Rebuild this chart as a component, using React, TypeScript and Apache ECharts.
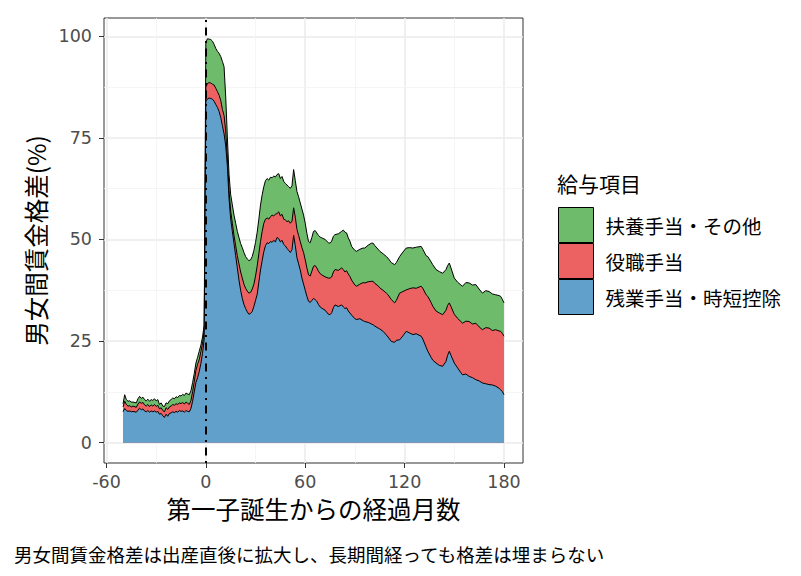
import React, { useEffect, useRef } from "react";
import * as echarts from "echarts";

// months since birth of first child
const months = [
  -50, -49, -48, -47, -46, -45, -44, -42, -41, -40, -39, -38, -37, -36, -35, -34, -33, -32, -31, -30,
  -29, -28, -27, -26, -25, -24, -23, -22, -21, -20, -19, -18, -17, -16, -15, -14, -13, -12, -11, -10,
  -9, -8, -7, -6, -5, -4, -3, -2, -1, 0, 1, 2, 3, 4, 5, 6, 7, 8, 9, 10,
  11, 12, 13, 14, 15, 16, 17, 18, 19, 20, 21, 22, 23, 24, 25, 26, 27, 28, 29, 30,
  31, 32, 33, 34, 35, 36, 37, 38, 39, 40, 41, 42, 43, 44, 45, 46, 47, 48, 49, 50,
  51, 52, 53, 54, 55, 56, 57, 58, 59, 60, 61, 62, 63, 64, 65, 66, 67, 68, 69, 70,
  72, 74, 75, 76, 77, 78, 80, 82, 83, 84, 85, 86, 87, 88, 90, 91, 93, 95, 96, 98,
  100, 101, 102, 104, 105, 107, 109, 110, 112, 114, 115, 117, 119, 121, 123, 125, 127, 130, 131, 133,
  134, 136, 137, 139, 141, 143, 145, 146, 147, 148, 150, 152, 154, 155, 157, 159, 161, 163, 165, 167,
  169, 171, 173, 175, 177, 178, 179, 180,
];

// cumulative top of 残業手当・時短控除 (bottom layer)
const overtimeTop = [
  7.6, 8.4, 7.9, 7.7, 7.8, 7.6, 7.7, 7.5, 8.0, 8.5, 8.1, 8.3, 7.8, 7.6, 7.9, 7.5, 7.8, 7.6, 7.8, 7.5,
  7.7, 7.0, 7.2, 6.6, 6.2, 7.0, 6.5, 7.2, 7.3, 7.6, 7.4, 7.7, 7.5, 7.9, 7.7, 7.8, 7.5, 7.9, 7.7, 7.6,
  8.4, 10.2, 12.5, 14.8, 16.0, 17.5, 19.5, 22.0, 25.5, 84.0, 84.6, 84.8, 84.7, 84.5, 84.0, 83.2, 82.5, 81.5, 80.0, 78.0,
  76.0, 73.0, 68.0, 60.0, 55.0, 52.0, 49.0, 46.0, 43.0, 40.0, 37.5, 35.5, 34.0, 33.0, 32.2, 31.6, 31.8, 32.3, 33.5, 35.0,
  36.5, 39.5, 42.5, 44.8, 47.0, 48.5, 49.2, 49.0, 49.5, 49.3, 49.8, 49.4, 50.5, 50.2, 49.4, 49.8, 48.8, 48.4, 47.8, 47.3,
  46.8, 47.5, 51.0, 48.5, 45.5, 44.0, 42.5, 40.5, 39.0, 37.5, 36.0, 34.8, 34.5, 35.0, 35.5, 35.2, 34.8, 34.0, 33.4, 33.1,
  32.6, 31.6, 31.5, 32.0, 33.2, 33.9, 33.5, 33.9, 33.4, 33.0, 33.2, 32.4, 31.9, 31.4, 30.5, 30.3, 30.5, 30.0, 29.8, 29.6,
  29.2, 29.0, 28.7, 28.2, 28.0, 27.4, 26.5, 26.0, 24.9, 24.7, 25.2, 25.3, 26.3, 27.4, 27.0, 26.6, 26.8, 26.2, 25.5, 23.5,
  22.5, 21.0, 20.3, 19.6, 19.0, 18.8, 20.0, 21.5, 22.5, 21.5, 19.6, 18.4, 17.2, 16.7, 16.9, 16.3, 16.0, 15.5, 15.2, 14.7,
  14.5, 14.3, 14.2, 13.9, 13.4, 13.0, 12.6, 11.8,
];

// cumulative top of 役職手当 (middle layer)
const positionTop = [
  8.8, 10.2, 9.4, 9.0, 9.1, 8.8, 9.0, 8.7, 9.5, 10.0, 9.7, 9.9, 9.3, 9.0, 9.4, 8.9, 9.3, 9.0, 9.4, 8.9,
  9.2, 8.3, 8.6, 7.9, 7.6, 8.6, 8.2, 8.8, 9.0, 9.4, 9.2, 9.6, 9.4, 9.8, 9.6, 9.9, 9.5, 10.0, 9.7, 9.4,
  10.4, 12.5, 15.0, 17.8, 19.3, 20.4, 22.4, 24.5, 27.5, 87.5, 88.4, 88.6, 88.5, 88.2, 88.0, 87.2, 86.4, 85.5, 84.2, 82.0,
  80.5, 76.5, 70.0, 62.0, 57.0, 54.0, 51.0, 48.5, 46.0, 44.0, 42.0, 40.5, 39.0, 38.0, 37.3, 36.8, 37.0, 37.8, 39.0, 41.0,
  43.5, 46.5, 49.5, 52.0, 54.0, 55.0, 55.3, 55.0, 55.6, 56.0, 55.8, 56.2, 56.4, 56.8, 55.8, 56.2, 55.0, 54.8, 54.4, 54.6,
  54.0, 54.5, 57.8, 55.5, 52.5, 51.0, 49.5, 48.0, 46.8, 45.0, 43.0, 41.3, 41.0, 42.2, 43.4, 43.6, 43.0, 42.2, 41.6, 41.3,
  40.8, 40.5, 40.5, 40.8, 42.0, 42.6, 42.4, 43.0, 42.6, 42.0, 42.3, 41.5, 40.9, 40.0, 38.8, 38.5, 39.0, 39.4, 39.3, 39.6,
  39.7, 39.7, 39.2, 38.6, 38.1, 37.5, 36.8, 36.4, 35.2, 34.4, 35.0, 36.8, 37.2, 37.6, 37.9, 38.1, 38.0, 38.5, 38.0, 36.4,
  36.0, 34.5, 33.6, 32.4, 31.9, 31.5, 32.6, 33.8, 34.4, 33.5, 31.6, 30.6, 29.8, 29.4, 29.9, 29.8, 29.2, 29.4, 28.5, 27.8,
  28.3, 28.2, 27.6, 27.8, 27.5, 27.4, 26.9, 26.2,
];

// cumulative top of 扶養手当・その他 (top layer)
const familyTop = [
  9.6, 11.8, 10.6, 10.2, 10.3, 10.0, 10.0, 9.8, 10.8, 11.4, 10.9, 11.2, 10.6, 10.3, 10.7, 10.2, 10.6, 10.4, 10.8, 10.3,
  10.6, 9.4, 9.8, 9.0, 8.9, 9.8, 9.6, 10.3, 10.6, 11.0, 10.8, 11.3, 11.1, 11.6, 11.5, 11.9, 11.6, 12.2, 12.0, 11.8,
  12.8, 14.8, 17.0, 19.6, 21.0, 22.5, 24.0, 26.0, 29.0, 98.5, 99.4, 99.3, 99.2, 98.8, 98.0, 97.0, 96.3, 95.8, 95.0, 93.8,
  92.5, 85.0, 75.0, 66.0, 61.0, 58.5, 56.0, 54.0, 52.0, 50.5, 49.0, 48.0, 46.8, 45.8, 45.2, 44.8, 45.0, 45.8, 47.3, 49.3,
  51.8, 55.0, 58.5, 61.0, 63.0, 64.5, 65.0, 64.6, 65.3, 65.2, 65.6, 65.4, 66.0, 66.2, 65.0, 65.5, 64.3, 63.8, 63.4, 63.0,
  62.6, 63.2, 67.2, 64.5, 61.8, 60.5, 59.0, 57.5, 56.0, 54.0, 51.5, 49.5, 49.2, 50.5, 52.0, 52.2, 51.6, 51.0, 50.6, 50.4,
  50.0, 49.2, 49.1, 49.6, 50.8, 51.2, 51.4, 52.0, 52.3, 51.8, 51.6, 50.4, 49.6, 48.3, 47.3, 47.1, 47.6, 47.9, 47.9, 48.6,
  49.1, 49.1, 48.5, 47.6, 47.1, 46.5, 45.8, 45.4, 44.3, 43.8, 44.3, 45.8, 46.9, 47.9, 48.0, 47.9, 48.1, 48.3, 47.6, 46.0,
  45.8, 44.5, 43.8, 42.6, 42.1, 41.7, 42.6, 43.6, 44.2, 43.0, 40.5, 39.5, 38.8, 38.5, 39.4, 39.3, 38.8, 38.9, 37.8, 36.8,
  37.4, 37.2, 36.6, 36.4, 36.2, 36.0, 35.3, 34.4,
];

const seriesNames = ["扶養手当・その他", "役職手当", "残業手当・時短控除"];
const seriesColors = ["#6DBB6B", "#EC6161", "#62A0CC"];

const xTicks = [-60, 0, 60, 120, 180];
const xMinor = [-30, 30, 90, 150];
const yTicks = [0, 25, 50, 75, 100];
const yMinor = [12.5, 37.5, 62.5, 87.5];

const legendTitle = "給与項目";
const xTitle = "第一子誕生からの経過月数";
const yTitle = "男女間賃金格差(%)";
const caption = "男女間賃金格差は出産直後に拡大し、長期間経っても格差は埋まらない";

const CJK = '"Noto Sans CJK JP", "Noto Sans", sans-serif';
const NUM = '"DejaVu Sans", sans-serif';

export default function App() {
  const ref = useRef<HTMLDivElement>(null);

  useEffect(() => {
    if (!ref.current) return;
    const chart = echarts.init(ref.current, undefined, { renderer: "svg" });
    const tops = [familyTop, positionTop, overtimeTop];

    const gridLines = [
      ...xTicks.map((v) => ({ xAxis: v, lineStyle: { color: "#EBEBEB", width: 1.5, type: "solid" } })),
      ...yTicks.map((v) => ({ yAxis: v, lineStyle: { color: "#EBEBEB", width: 1.5, type: "solid" } })),
      ...xMinor.map((v) => ({ xAxis: v, lineStyle: { color: "#F2F2F2", width: 0.8, type: "solid" } })),
      ...yMinor.map((v) => ({ yAxis: v, lineStyle: { color: "#F2F2F2", width: 0.8, type: "solid" } })),
    ];

    const areaSeries: any[] = seriesNames.map((name, k) => ({
      name,
      type: "line",
      data: months.map((m, i) => [m, tops[k][i]]),
      color: seriesColors[k],
      itemStyle: { color: seriesColors[k] },
      symbol: "none",
      showSymbol: false,
      lineStyle: { color: "#000", width: 1 },
      areaStyle: { color: seriesColors[k], opacity: 1 },
      z: 2 + k,
      silent: true,
      emphasis: { disabled: true },
      ...(k === 2
        ? {
            markLine: {
              silent: true,
              symbol: ["none", "none"],
              label: { show: false },
              z: 10,
              lineStyle: { color: "#000", width: 2, type: [2, 5.5, 8, 5.5] },
              data: [{ xAxis: 0 }],
            },
          }
        : {}),
    }));

    chart.setOption({
      animation: false,
      backgroundColor: "#fff",
      grid: {
        left: 104,
        right: 278,
        top: 18,
        bottom: 113,
        show: true,
        borderColor: "#333",
        borderWidth: 1,
        backgroundColor: "#fff",
      },
      xAxis: {
        type: "value",
        min: -61.5,
        max: 191.5,
        name: xTitle,
        nameLocation: "middle",
        nameGap: 32,
        nameTextStyle: { fontFamily: CJK, fontSize: 24.5, color: "#000" },
        axisLine: { show: false, onZero: false },
        axisTick: { show: true, length: 5, customValues: xTicks, lineStyle: { color: "#333", width: 1 } },
        axisLabel: { customValues: xTicks, fontFamily: NUM, fontSize: 17.5, color: "#4D4D4D", margin: 10 },
        splitLine: { show: false },
      },
      yAxis: {
        type: "value",
        min: -5,
        max: 104.5,
        name: yTitle,
        nameLocation: "middle",
        nameRotate: 90,
        nameGap: 46,
        nameTextStyle: { fontFamily: CJK, fontSize: 24.5, color: "#000" },
        axisLine: { show: false, onZero: false },
        axisTick: { show: true, length: 5, customValues: yTicks, lineStyle: { color: "#333", width: 1 } },
        axisLabel: { customValues: yTicks, fontFamily: NUM, fontSize: 17.5, color: "#4D4D4D", margin: 12 },
        splitLine: { show: false },
      },
      legend: {
        orient: "vertical",
        left: 558,
        top: 207,
        padding: 0,
        itemWidth: 35,
        itemHeight: 35,
        itemGap: 0,
        icon: "rect",
        selectedMode: false,
        data: seriesNames,
        itemStyle: { borderColor: "#000", borderWidth: 1 },
        textStyle: { fontFamily: CJK, fontSize: 19.5, color: "#000", padding: [0, 0, 0, 7] },
      },
      graphic: [
        {
          type: "text",
          x: 557,
          y: 183,
          style: { text: legendTitle, fontFamily: CJK, fontSize: 21, fill: "#000", verticalAlign: "middle" },
        },
        {
          type: "text",
          x: 14,
          y: 554,
          style: { text: caption, fontFamily: CJK, fontSize: 18.5, fill: "#000", verticalAlign: "middle" },
        },
      ],
      series: [
        {
          name: "grid",
          type: "line",
          data: [],
          silent: true,
          z: 1,
          markLine: {
            silent: true,
            symbol: ["none", "none"],
            label: { show: false },
            z: 1,
            data: gridLines,
          },
        },
        ...areaSeries,
      ],
    });

    return () => chart.dispose();
  }, []);

  return (
    <div
      ref={ref}
      style={{ position: "fixed", left: 0, top: 0, width: 801, height: 576, background: "#fff" }}
    />
  );
}
